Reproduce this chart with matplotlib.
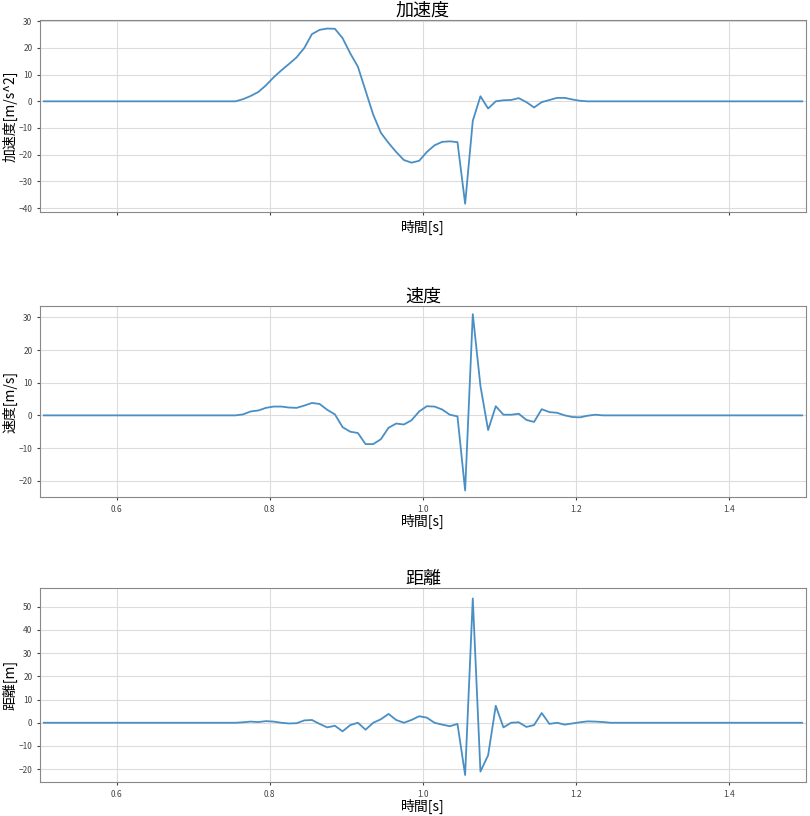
import numpy as np
import matplotlib
matplotlib.use("Agg")
import matplotlib.pyplot as plt

plt.rcParams['font.family'] = ['Noto Sans CJK JP', 'DejaVu Sans']

t0 = 0.755
accel_vals = [0, 0.8, 2, 3.5, 6, 9, 11.6, 14, 16.5, 20, 25.2, 26.8, 27.3, 27.2, 23.7, 18, 13, 4, -5,
              -11.8, -15.6, -19, -22, -23, -22.3, -19, -16.5, -15.2, -15, -15.3, -38.4, -7.3, 1.9,
              -2.7, 0, 0.4, 0.5, 1.2, -0.3, -2.3, -0.3, 0.5, 1.3, 1.3, 0.7, 0.2, 0]
vel_vals = [0, 0.3, 1.2, 1.5, 2.3, 2.7, 2.7, 2.4, 2.3, 3.0, 3.8, 3.5, 1.7, 0.3, -3.6, -5, -5.4, -8.8,
            -8.8, -7.3, -3.8, -2.5, -2.8, -1.5, 1.2, 2.8, 2.7, 1.8, 0.2, -0.3, -23, 31, 9, -4.5, 2.8,
            0.2, 0.2, 0.5, -1.4, -2, 1.9, 1, 0.8, 0, -0.5, -0.6, -0.1, 0.2, 0]
dist_vals = [0, 0.2, 0.5, 0.3, 0.7, 0.5, 0, -0.3, -0.2, 1, 1.2, -0.5, -2, -1.3, -3.7, -1, 0, -3, 0,
             1.5, 3.8, 1.2, 0, 1.2, 2.8, 2.2, 0, -0.8, -1.5, -0.5, -22.5, 53.5, -21, -14, 7.3, -2,
             0, 0.2, -1.8, -1, 4.2, -0.5, 0, -0.8, -0.3, 0.2, 0.6, 0.5, 0.3, 0]

t = np.round(np.arange(0.505, 1.5, 0.01), 4)

def series(vals):
    y = np.zeros_like(t)
    start = int(round((t0 - 0.505) / 0.01))
    y[start:start + len(vals)] = vals
    return y

titles = ['加速度', '速度', '距離']
ylabels = ['加速度[m/s^2]', '速度[m/s]', '距離[m]']
data = [series(accel_vals), series(vel_vals), series(dist_vals)]
ylims = [(-41.5, 30.5), (-25, 33.5), (-25.5, 58)]
yticks = [np.arange(-40, 31, 10), np.arange(-20, 31, 10), np.arange(-20, 51, 10)]
boxes = [(40, 20, 806, 212), (40, 306, 806, 497), (40, 588, 806, 782)]

W, H = 810, 816
fig = plt.figure(figsize=(W / 100, H / 100), dpi=100)
for i in range(3):
    x0, y0, x1, y1 = boxes[i]
    ax = fig.add_axes([x0 / W, 1 - y1 / H, (x1 - x0) / W, (y1 - y0) / H])
    ax.plot(t, data[i], color='#4a8fc4', lw=1.3)
    ax.set_xlim(0.5, 1.5)
    ax.set_ylim(*ylims[i])
    ax.set_xticks([0.6, 0.8, 1.0, 1.2, 1.4])
    ax.set_yticks(yticks[i])
    if i == 0:
        ax.set_xticklabels([])
    ax.grid(True, color='#dcdcdc', lw=0.8)
    ax.tick_params(labelsize=6, colors='#444444', length=2)
    for s in ax.spines.values():
        s.set_color('#888888')
    ax.set_title(titles[i], fontsize=13, pad=3)
    ax.set_xlabel('時間[s]', fontsize=10, labelpad=0)
    ax.set_ylabel(ylabels[i], fontsize=10, labelpad=1)

fig.savefig('out.png', dpi=100)
